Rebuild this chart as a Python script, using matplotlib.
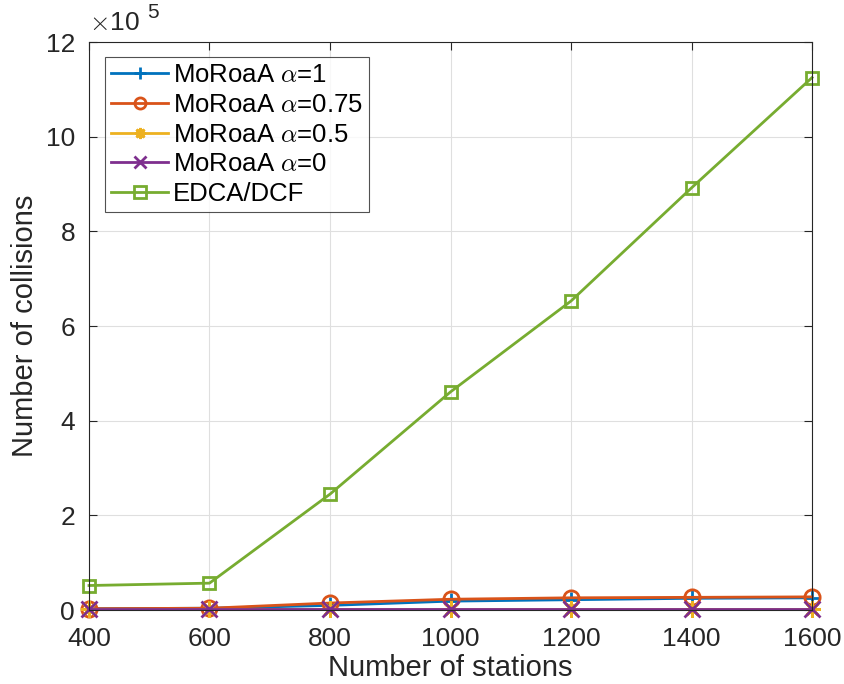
import matplotlib
matplotlib.use("Agg")
from matplotlib import pyplot as plt

plt.rcParams['font.family'] = ['Liberation Sans', 'DejaVu Sans']
plt.rcParams['mathtext.fontset'] = 'cm'

stations = [400, 600, 800, 1000, 1200, 1400, 1600]

# collisions, in units of 1e5
alpha_1 = [0.03, 0.04, 0.10, 0.19, 0.22, 0.25, 0.26]
alpha_075 = [0.03, 0.04, 0.15, 0.23, 0.26, 0.27, 0.28]
alpha_05 = [0.02, 0.02, 0.02, 0.02, 0.02, 0.02, 0.02]
alpha_0 = [0.02, 0.02, 0.02, 0.02, 0.02, 0.02, 0.02]
edca = [0.52, 0.57, 2.45, 4.61, 6.53, 8.92, 11.25]

labels = [r'MoRoaA $\alpha$=1', r'MoRoaA $\alpha$=0.75', r'MoRoaA $\alpha$=0.5',
          r'MoRoaA $\alpha$=0', 'EDCA/DCF']
colors = ['#0072BD', '#D95319', '#EDB120', '#7E2F8E', '#77AC30']
# asterisk like matlab's '*': eight arms
markers = ['+', 'o', (8, 2, 0), 'x', 's']
sizes = [12, 11, 12, 11, 9]

fig = plt.figure(figsize=(8.45, 6.84), dpi=100)
ax = fig.add_axes([0.1053, 0.108, 0.8557, 0.8305])

series = [alpha_1, alpha_075, alpha_05, alpha_0, edca]
for vals, lab, c, m, ms in zip(series, labels, colors, markers, sizes):
    ax.plot(stations, vals, color=c, marker=m, markersize=ms, markerfacecolor='none',
            markeredgewidth=2, linewidth=2, label=lab, clip_on=False)

ax.set_xlim(400, 1600)
ax.set_ylim(0, 12)
ax.set_xticks(stations)
ax.set_yticks(range(0, 13, 2))
ax.tick_params(direction='in', labelsize=19, colors='#262626', length=6,
               top=True, right=True)
ax.tick_params(axis='x', pad=12)
ax.tick_params(axis='y', pad=10)
for s in ax.spines.values():
    s.set_color('#262626')
    s.set_linewidth(0.8)
ax.grid(True, color='#dfdfdf', linewidth=0.8)
ax.set_axisbelow(True)

ax.set_xlabel('Number of stations', fontsize=21, color='#262626', labelpad=2)
ax.set_ylabel('Number of collisions', fontsize=21, color='#262626', labelpad=5)
ax.text(0.0, 1.012, r'$\times$10', transform=ax.transAxes, fontsize=19,
        color='#262626', ha='left', va='bottom')
ax.text(0.08, 1.035, '5', transform=ax.transAxes, fontsize=15,
        color='#262626', ha='left', va='bottom')

leg = ax.legend(loc='upper left', bbox_to_anchor=(0.022, 0.974), fontsize=18.5,
                frameon=True, fancybox=False, edgecolor='#262626',
                borderpad=0.25, labelspacing=0.22, handlelength=2.2,
                handletextpad=0.2, borderaxespad=0)
leg.get_frame().set_linewidth(0.8)
for h in leg.legend_handles:
    h.set_markersize(8)

fig.savefig('out.png', dpi=100)
